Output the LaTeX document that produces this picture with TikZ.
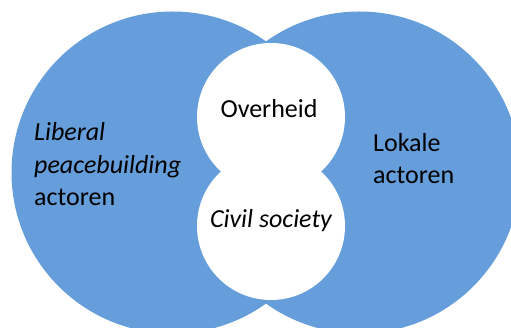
\documentclass[tikz,border=0pt]{standalone}
\usepackage{fontspec}
\setmainfont{Carlito}
\definecolor{vennblue}{RGB}{101,158,218}
\begin{document}
\begin{tikzpicture}[x=1pt, y=-1pt,
	set/.style={circle, fill=vennblue, minimum size=322pt, inner sep=0pt},
	blob/.style={circle, fill=white, minimum size=148pt, inner sep=0pt},
	txt/.style={font=\fontsize{26}{32}\selectfont, inner sep=0pt, anchor=base west},
	midtxt/.style={txt, anchor=base}]
	  \useasboundingbox (0,0) rectangle (511,328);
	  \node[set] (liberal) at (172.5,172.5) {};
	  \node[set] (lokaal) at (359.5,172.5) {};
	  \node[blob] (overheid) at (271,117) {};
	  \node[blob] (civil) at (271,226) {};
	  \node[txt] (lib1) at (34,141) {\itshape Liberal};
	  \node[txt] (lib2) at (34,174) {\itshape peacebuilding};
	  \node[txt] (lib3) at (34,206) {actoren};
	  \node[txt] (lok1) at (373,152) {Lokale};
	  \node[txt] (lok2) at (373,184) {actoren};
	  \node[midtxt] (ovh) at (269,118) {Overheid};
	  \node[midtxt] (cs) at (271,228) {\itshape Civil society};
\end{tikzpicture}
\end{document}
